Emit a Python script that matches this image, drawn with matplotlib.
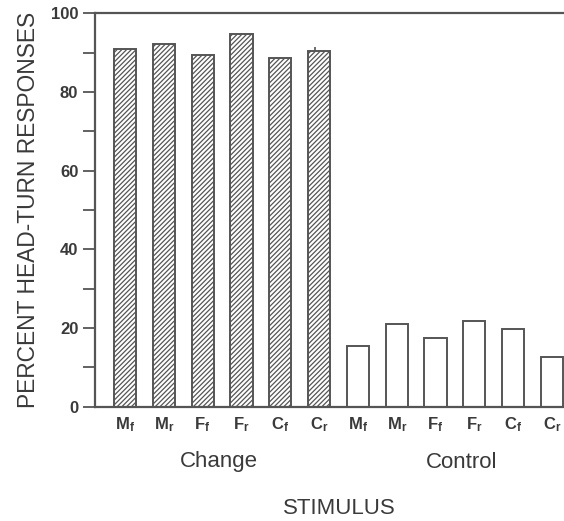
import matplotlib
matplotlib.use("Agg")
import matplotlib.pyplot as plt
import numpy as np

# Data
stimuli = ["M_f", "M_r", "F_f", "F_r", "C_f", "C_r"]
change_values = [91.0, 92.2, 89.5, 94.8, 88.6, 90.3]
control_values = [15.4, 21.0, 17.4, 21.9, 19.8, 12.7]
change_err_top = 1.2  # small error marker on last change bar
groups = ["Change", "Control"]
yticks_major = [0, 20, 40, 60, 80, 100]
yticks_minor = [10, 30, 50, 70, 90]

plt.rcParams['font.family'] = ['Liberation Sans', 'DejaVu Sans']
plt.rcParams['mathtext.fontset'] = 'custom'
plt.rcParams['mathtext.rm'] = 'Liberation Sans:bold'
plt.rcParams['mathtext.bf'] = 'Liberation Sans:bold'
plt.rcParams['mathtext.it'] = 'Liberation Sans:bold'
plt.rcParams['hatch.linewidth'] = 0.9
plt.rcParams['hatch.color'] = '#555555'

ink = '#3a3a3a'
line_c = '#555555'

fig = plt.figure(figsize=(5.64, 5.21), dpi=100)
ax = fig.add_axes([95/564, 1 - 406.7/521, 1 - 95/564, (406.7 - 13.3)/521])

n = len(stimuli)
x_change = np.arange(n)
x_control = np.arange(n) + n
w = 0.57

ax.bar(x_change, change_values, width=w, facecolor='white', edgecolor=line_c,
       linewidth=1.4, hatch='///////')
ax.bar(x_control, control_values, width=w, facecolor='white', edgecolor=line_c,
       linewidth=1.4)
ax.errorbar([x_change[-1] - 0.1], [change_values[-1]], yerr=[[0], [change_err_top]],
            fmt='none', ecolor=line_c, elinewidth=1.2, capsize=0)

ax.set_xlim(-0.773, 11.31)
ax.set_ylim(0, 100)

ax.set_yticks(yticks_major)
ax.set_yticks(yticks_minor, minor=True)
ax.set_yticklabels([str(v) for v in yticks_major], fontsize=12, fontweight='bold', color=ink)
ax.tick_params(axis='y', which='both', direction='out', length=9, width=1.3, color=line_c, pad=3)

labels = []
for s in stimuli + stimuli:
    base, sub = s.split('_')
    labels.append(r"$\mathbf{" + base + r"}_{\mathbf{" + sub + r"}}$")
ax.set_xticks(list(x_change) + list(x_control))
ax.set_xticklabels(labels, fontsize=12, color=ink)
ax.tick_params(axis='x', length=0, pad=6)

for side in ['right']:
    ax.spines[side].set_visible(False)
for side in ['left', 'top', 'bottom']:
    ax.spines[side].set_color(line_c)
    ax.spines[side].set_linewidth(1.6)

ax.set_ylabel("PERCENT HEAD-TURN RESPONSES", fontsize=16.4, color=ink, labelpad=8)

fig.text(219/564, 1 - 462/521, groups[0], ha='center', va='center', fontsize=16, color=ink)
fig.text(462/564, 1 - 462/521, groups[1], ha='center', va='center', fontsize=16, color=ink)
fig.text(339/564, 1 - 508/521, "STIMULUS", ha='center', va='center', fontsize=16, color=ink)

fig.savefig("out.png", dpi=100, facecolor='white')
